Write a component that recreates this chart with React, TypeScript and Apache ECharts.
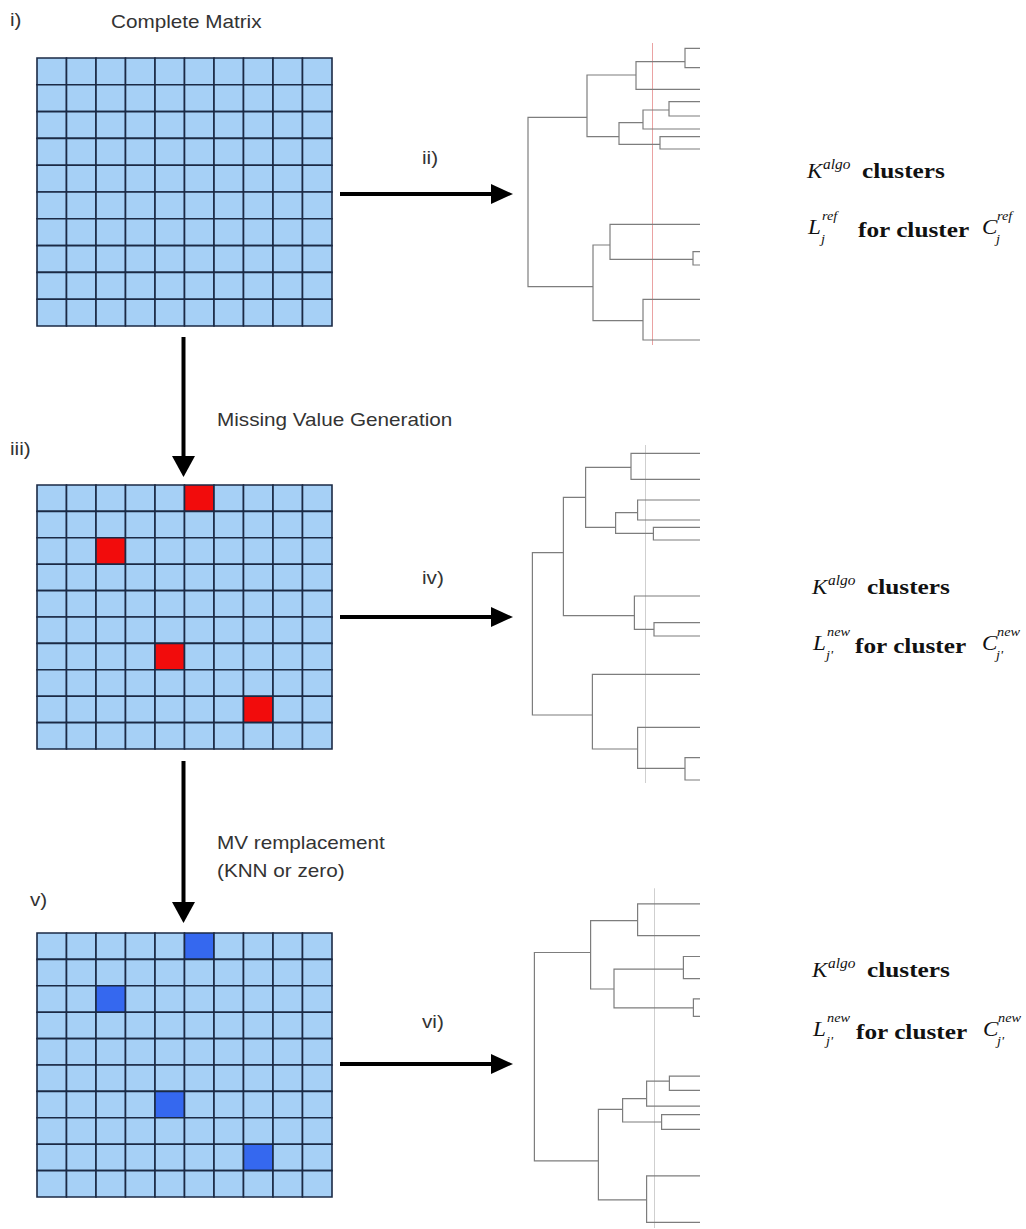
import React, { useEffect, useRef } from "react";
import * as echarts from "echarts";

// ---------- Data ----------
const COLS = ["0", "1", "2", "3", "4", "5", "6", "7", "8", "9"];
const ROWS = ["0", "1", "2", "3", "4", "5", "6", "7", "8", "9"];
// [column, row] of the cells that become missing values
const MISSING_CELLS = [
  [5, 0],
  [2, 2],
  [4, 6],
  [7, 8],
];
// state 0 = complete, 1 = missing, 2 = replaced
const MATRIX_STATES = [0, 1, 2];
const STATE_COLORS = ["#a6d0f6", "#f20c0c", "#3568ef"];

// Dendrogram leaves: leaf position (top to bottom); merges: [childA, childB, height, nodePosition]
const D1_LEAVES = [0.83, 2.77, 4.93, 6.17, 7.6, 8.9, 9.67, 10.9, 18.43, 21.17, 22.5, 25.93, 30.0];
const D1_MERGES = [
  [0, 1, 0.75, 2.17],
  [13, 2, 3.2, 3.5],
  [3, 4, 1.55, 7.0],
  [15, 5, 2.85, 8.27],
  [6, 7, 2.0, 10.43],
  [16, 17, 4.05, 9.67],
  [14, 18, 5.65, 7.73],
  [9, 10, 0.35, 21.93],
  [8, 20, 4.5, 20.5],
  [11, 12, 2.85, 28.07],
  [21, 22, 5.35, 24.67],
  [19, 23, 8.6, 16],
];
const D1_CUT = [2.37, 0.3, 30.5];

const D2_LEAVES = [1.33, 3.93, 6.0, 8.0, 8.73, 10.0, 15.6, 18.27, 19.6, 23.43, 28.73, 31.77, 34.0];
const D2_MERGES = [
  [0, 1, 3.45, 2.73],
  [2, 3, 3.12, 7.27],
  [4, 5, 2.33, 9.33],
  [14, 15, 4.22, 8.73],
  [13, 16, 5.72, 5.73],
  [7, 8, 2.3, 18.93],
  [6, 18, 3.28, 17.57],
  [17, 19, 6.83, 11.27],
  [11, 12, 0.75, 32.83],
  [10, 21, 3.12, 30.9],
  [9, 22, 5.38, 27.5],
  [20, 23, 8.38, 19],
];
const D2_CUT = [2.75, 0.5, 34.3];

const D3_LEAVES = [2.4, 5.57, 7.67, 9.9, 11.93, 13.67, 19.67, 21.1, 22.67, 23.53, 25.0, 29.67, 34.33];
const D3_MERGES = [
  [0, 1, 3.12, 4.07],
  [2, 3, 0.83, 8.93],
  [4, 5, 0.33, 12.83],
  [14, 15, 4.3, 10.93],
  [13, 16, 5.47, 7.27],
  [6, 7, 1.53, 20.17],
  [18, 8, 2.67, 21.93],
  [9, 10, 1.92, 24.27],
  [19, 20, 3.87, 23.0],
  [11, 12, 2.67, 32.07],
  [21, 22, 5.08, 28.17],
  [17, 23, 8.28, 18],
];
const D3_CUT = [2.3, 0.83, 34.9];

const CUT_COLORS = ["#eaa2a2", "#cfcfcf", "#cfcfcf"];

// ---------- Helpers ----------
function matrixData(state: number) {
  const out: number[][] = [];
  for (let r = 0; r < ROWS.length; r++) {
    for (let c = 0; c < COLS.length; c++) {
      const isMissing = MISSING_CELLS.some((m) => m[0] === c && m[1] === r);
      out.push([c, r, isMissing ? state : 0]);
    }
  }
  return out;
}

function dendroSegments(leaves: number[], merges: number[][]) {
  const nodes: { h: number; p: number }[] = leaves.map((p) => ({ h: 0, p }));
  const segs: { coords: number[][] }[] = [];
  merges.forEach((m) => {
    const a = nodes[m[0]];
    const b = nodes[m[1]];
    segs.push({
      coords: [
        [a.h, a.p],
        [m[2], a.p],
        [m[2], b.p],
        [b.h, b.p],
      ],
    });
    nodes.push({ h: m[2], p: m[3] });
  });
  return segs;
}

const SANS = { fontFamily: "Liberation Sans", fontSize: 18, fill: "#333333" };
const SERIF = "Liberation Serif";

function txt(text: string, x: number, y: number, style: any = {}, scaleX = 1.15) {
  return {
    type: "text",
    x,
    y,
    scaleX,
    silent: true,
    style: { text, x: 0, y: 0, align: "left", verticalAlign: "middle", ...SANS, ...style },
  };
}

function mathLabels(kx: number, y1: number, lx: number, y2: number, fx: number, cx: number, sup: string, sub: string) {
  const it = { fontFamily: SERIF, fontStyle: "italic", fill: "#111111" };
  const bold = { fontFamily: SERIF, fontWeight: "bold", fill: "#111111", fontSize: 22 };
  return [
    txt("K", kx, y1, { ...it, fontSize: 21 }, 1.1),
    txt("algo", kx + 16, y1 - 7, { ...it, fontSize: 14 }, 1.1),
    txt("clusters", kx + 55, y1, bold, 1.15),
    txt("L", lx, y2, { ...it, fontSize: 21 }, 1.1),
    txt(sup, lx + 14, y2 - 11, { ...it, fontSize: 13 }, 1.1),
    txt(sub, lx + 13, y2 + 12, { ...it, fontSize: 13 }, 1.1),
    txt("for cluster", fx, y2 + 3, bold, 1.15),
    txt("C", cx, y2, { ...it, fontSize: 21 }, 1.1),
    txt(sup, cx + 15, y2 - 11, { ...it, fontSize: 13 }, 1.1),
    txt(sub, cx + 14, y2 + 12, { ...it, fontSize: 13 }, 1.1),
  ];
}

function vArrow(x: number, y0: number, y1: number) {
  return [
    { type: "line", silent: true, shape: { x1: x, y1: y0, x2: x, y2: y1 - 18 }, style: { stroke: "#000", lineWidth: 4 } },
    { type: "polygon", silent: true, shape: { points: [[x - 11.5, y1 - 21], [x + 11.5, y1 - 21], [x, y1]] }, style: { fill: "#000" } },
  ];
}

function hArrow(y: number, x0: number, x1: number) {
  return [
    { type: "line", silent: true, shape: { x1: x0, y1: y, x2: x1 - 18, y2: y }, style: { stroke: "#000", lineWidth: 4 } },
    { type: "polygon", silent: true, shape: { points: [[x1 - 22, y - 10], [x1 - 22, y + 10], [x1, y]] }, style: { fill: "#000" } },
  ];
}

export default function App() {
  const ref = useRef<HTMLDivElement>(null);

  useEffect(() => {
    if (!ref.current) return;
    const chart = echarts.init(ref.current, null, { renderer: "svg" });

    const matrixGrids = [
      { left: 37, top: 58, width: 295, height: 268 },
      { left: 37, top: 485, width: 295, height: 264 },
      { left: 37, top: 933, width: 295, height: 264 },
    ];
    const dendroGrids = [
      { left: 500, top: 40, width: 200, height: 350 },
      { left: 500, top: 440, width: 200, height: 350 },
      { left: 500, top: 880, width: 200, height: 350 },
    ];
    const grids = [...matrixGrids, ...dendroGrids];

    const xAxes: any[] = [];
    const yAxes: any[] = [];
    matrixGrids.forEach((_, i) => {
      xAxes.push({ type: "category", data: COLS, gridIndex: i, show: false, boundaryGap: true });
      yAxes.push({ type: "category", data: ROWS, gridIndex: i, show: false, inverse: true, boundaryGap: true });
    });
    dendroGrids.forEach((_, i) => {
      xAxes.push({ type: "value", min: 0, max: 10, inverse: true, gridIndex: 3 + i, show: false });
      yAxes.push({ type: "value", min: 0, max: 35, inverse: true, gridIndex: 3 + i, show: false });
    });

    const series: any[] = [];
    MATRIX_STATES.forEach((state, i) => {
      series.push({
        type: "custom",
        xAxisIndex: i,
        yAxisIndex: i,
        silent: true,
        data: matrixData(state),
        renderItem: (params: any, api: any) => {
          const c = api.coord([api.value(0), api.value(1)]);
          const s = api.size([1, 1]);
          return {
            type: "rect",
            shape: { x: c[0] - s[0] / 2, y: c[1] - s[1] / 2, width: s[0], height: s[1] },
            style: { fill: STATE_COLORS[api.value(2)], stroke: "#1b2a45", lineWidth: 1.6 },
          };
        },
      });
    });

    const dendros = [
      [D1_LEAVES, D1_MERGES, D1_CUT],
      [D2_LEAVES, D2_MERGES, D2_CUT],
      [D3_LEAVES, D3_MERGES, D3_CUT],
    ] as any[];
    dendros.forEach((d, i) => {
      const cut = d[2];
      series.push({
        type: "lines",
        coordinateSystem: "cartesian2d",
        xAxisIndex: 3 + i,
        yAxisIndex: 3 + i,
        silent: true,
        data: [{ coords: [[cut[0], cut[1]], [cut[0], cut[2]]] }],
        lineStyle: { color: CUT_COLORS[i], width: 1, opacity: 1 },
      });
      series.push({
        type: "lines",
        coordinateSystem: "cartesian2d",
        xAxisIndex: 3 + i,
        yAxisIndex: 3 + i,
        polyline: true,
        silent: true,
        data: dendroSegments(d[0], d[1]),
        lineStyle: { color: "#7d7d7d", width: 1.2, opacity: 1 },
      });
    });

    const graphic: any[] = [
      txt("i)", 10, 20),
      txt("Complete Matrix", 111, 22),
      txt("ii)", 422, 158),
      txt("Missing Value Generation", 217, 420),
      txt("iii)", 10, 449),
      txt("iv)", 422, 578),
      txt("MV remplacement", 217, 843),
      txt("(KNN or zero)", 217, 871),
      txt("v)", 30, 900),
      txt("vi)", 422, 1022),
      ...vArrow(183.5, 337, 477),
      ...vArrow(183.5, 761, 923),
      ...hArrow(194, 340, 513),
      ...hArrow(617, 340, 513),
      ...hArrow(1064, 340, 513),
      ...mathLabels(807, 171, 808, 227, 858, 982, "ref", "j"),
      ...mathLabels(812, 587, 813, 643, 855, 982, "new", "j'"),
      ...mathLabels(812, 970, 813, 1029, 856, 983, "new", "j'"),
    ];

    chart.setOption({
      animation: false,
      backgroundColor: "#ffffff",
      grid: grids,
      xAxis: xAxes,
      yAxis: yAxes,
      series,
      graphic,
    });

    return () => chart.dispose();
  }, []);

  return (
    <div
      ref={ref}
      style={{ position: "absolute", left: 0, top: 0, width: 1026, height: 1229, background: "#fff" }}
    />
  );
}
